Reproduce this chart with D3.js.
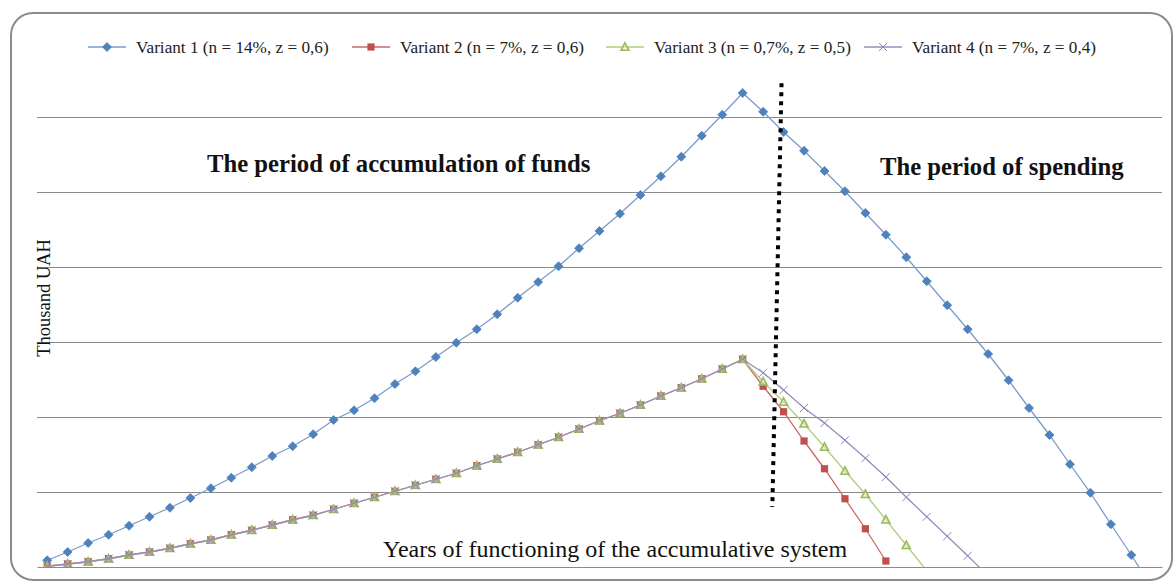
<!DOCTYPE html>
<html>
<head>
<meta charset="utf-8">
<script src="https://cdn.jsdelivr.net/npm/d3@7"></script>
<style>
  html, body { margin: 0; padding: 0; background: #fff; }
  svg { display: block; }
  text { font-family: "Liberation Serif", "Times New Roman", serif; }
</style>
</head>
<body>
<svg id="chart" width="1176" height="586"></svg>
<script>
// ---- data ----
const years = [1,2,3,4,5,6,7,8,9,10,11,12,13,14,15,16,17,18,19,20,21,22,23,24,25,26,27,28,29,30,31,32,33,34,35,36,37,38,39,40,41,42,43,44,45,46,47,48,49,50,51,52,53,54,55];

const variant1 = [9,20,32,43,55,67,79,92,105,119,133,148,161,177,196,209,225,244,261,280,299,317,337,359,380,401,425,448,471,496,521,547,575,603,632,
                  607,580,555,528,501,472,443,413,381,349,317,284,249,212,176,137,99,57,16,-27];
const variant2 = [1,4,7,11,16,20,25,31,36,43,49,56,63,69,77,85,93,101,109,117,125,135,144,153,163,173,184,195,205,216,228,239,251,264,277,
                  241,207,168,131,91,51,8,null,null,null,null,null,null,null,null,null,null,null,null,null];
const variant3 = [1,4,7,11,16,20,25,31,36,43,49,56,63,69,77,85,93,101,109,117,125,135,144,153,163,173,184,195,205,216,228,239,251,264,277,
                  247,220,191,160,128,97,63,29,-5,null,null,null,null,null,null,null,null,null,null,null];
const variant4 = [1,4,7,11,16,20,25,31,36,43,49,56,63,69,77,85,93,101,109,117,125,135,144,153,163,173,184,195,205,216,228,239,251,264,277,
                  259,236,212,192,169,145,120,93,67,41,15,-12,null,null,null,null,null,null,null,null];

const seriesNames = ["Variant 1 (n = 14%, z = 0,6)", "Variant 2 (n = 7%, z = 0,6)", "Variant 3 (n = 0,7%, z = 0,5)", "Variant 4 (n = 7%, z = 0,4)"];
const gridTicks = [100, 200, 300, 400, 500, 600];
// divider annotation, in data units (category position, value)
const divider = { top: { pos: 35.9, v: 645 }, bottom: { pos: 35.45, v: 80 } };

// ---- layout ----
const svg = d3.select("#chart");
const plot = { left: 37, right: 1162, top: 42, bottom: 567 };
const colors = ["#4F81BD", "#C0504D", "#9BBB59", "#8064A2"];
const lineColors = ["#7a9ccc", "#c96a67", "#b3cc82", "#9a8cbd"];
const markers = ["diamond", "square", "triangle", "x"];
const legendStarts = [88, 352, 606, 864];

// frame
svg.append("rect")
  .attr("x", 11).attr("y", 13).attr("width", 1161).attr("height", 567)
  .attr("rx", 22).attr("ry", 22)
  .attr("fill", "#fff").attr("stroke", "#8c8c8c").attr("stroke-width", 2);

const x = d3.scaleBand().domain(years).range([plot.left, plot.right]);
const cx = d => x(d) + x.bandwidth() / 2;
const xPos = d3.scaleLinear().domain([0, years.length - 1]).range([cx(years[0]), cx(years[years.length - 1])]);
const y = d3.scaleLinear().domain([0, 700]).range([plot.bottom, plot.top]);

// gridlines via axis
const grid = svg.append("g")
  .attr("transform", `translate(${plot.left},0)`)
  .call(d3.axisLeft(y).tickValues(gridTicks).tickSize(-(plot.right - plot.left)).tickFormat(""));
grid.select(".domain").remove();
grid.selectAll(".tick line").attr("stroke", "#8a8a8a").attr("stroke-width", 1.2);

// bottom axis line
const xAxis = svg.append("g")
  .attr("transform", `translate(0,${plot.bottom})`)
  .call(d3.axisBottom(x).tickSize(0).tickFormat(""));
xAxis.select(".domain").attr("stroke", "#8a8a8a").attr("stroke-width", 1.2);

// clip
svg.append("clipPath").attr("id", "clip")
  .append("rect").attr("x", plot.left).attr("y", plot.top)
  .attr("width", plot.right - plot.left).attr("height", plot.bottom - plot.top);

const allSeries = [variant1, variant2, variant3, variant4];
const g = svg.append("g").attr("clip-path", "url(#clip)");

function drawMarker(sel, type, color) {
  if (type === "diamond") {
    sel.append("path").attr("d", "M0,-4.5L4.5,0L0,4.5L-4.5,0Z").attr("fill", color).attr("stroke", color).attr("stroke-width", 0.8);
  } else if (type === "square") {
    sel.append("rect").attr("x", -3.6).attr("y", -3.6).attr("width", 7.2).attr("height", 7.2).attr("fill", color);
  } else if (type === "triangle") {
    sel.append("path").attr("d", "M0,-4.2L4,3.3L-4,3.3Z").attr("fill", "#e6eed2").attr("fill-opacity", 0.6).attr("stroke", color).attr("stroke-width", 1.6);
  } else {
    sel.append("path").attr("d", "M-4,-4L4,4M-4,4L4,-4").attr("stroke", "#8f83bd").attr("stroke-width", 1).attr("fill", "none");
  }
}

allSeries.forEach((vals, si) => {
  const pts = vals.map((v, i) => ({ year: years[i], v }));
  const line = d3.line().defined(d => d.v !== null).x(d => cx(d.year)).y(d => y(d.v));
  g.append("path").datum(pts).attr("d", line)
    .attr("fill", "none").attr("stroke", lineColors[si]).attr("stroke-width", 1.3);
  const mg = g.append("g");
  pts.filter(d => d.v !== null && d.v >= 0).forEach(d => {
    const m = mg.append("g").attr("transform", `translate(${cx(d.year)},${y(d.v)})`);
    drawMarker(m, markers[si], colors[si]);
  });
});

// dotted divider
svg.append("line")
  .attr("x1", xPos(divider.top.pos)).attr("y1", y(divider.top.v))
  .attr("x2", xPos(divider.bottom.pos)).attr("y2", y(divider.bottom.v))
  .attr("stroke", "#000").attr("stroke-width", 4).attr("stroke-dasharray", "4,5");

// annotations
svg.append("text").attr("x", 207).attr("y", 172)
  .attr("font-size", 24.7).attr("font-weight", "bold").attr("fill", "#111")
  .text("The period of accumulation of funds");
svg.append("text").attr("x", 880).attr("y", 175)
  .attr("font-size", 24.7).attr("font-weight", "bold").attr("fill", "#111")
  .text("The period of spending");
svg.append("text").attr("x", 383).attr("y", 557)
  .attr("font-size", 24).attr("fill", "#111")
  .text("Years of functioning of the accumulative system");
svg.append("text")
  .attr("transform", "translate(50,298) rotate(-90)")
  .attr("text-anchor", "middle").attr("font-size", 18.5).attr("fill", "#111")
  .text("Thousand UAH");

// legend
const legend = svg.append("g").attr("transform", "translate(0,47)");
seriesNames.forEach((name, si) => {
  const item = legend.append("g").attr("transform", `translate(${legendStarts[si]},0)`);
  item.append("line").attr("x1", 0).attr("x2", 38).attr("y1", 0).attr("y2", 0)
    .attr("stroke", lineColors[si]).attr("stroke-width", 1.3);
  const m = item.append("g").attr("transform", "translate(19,0)");
  drawMarker(m, markers[si], colors[si]);
  item.append("text").attr("x", 48).attr("y", 5.5).attr("font-size", 17.2).attr("fill", "#222").text(name);
});
</script>
</body>
</html>
